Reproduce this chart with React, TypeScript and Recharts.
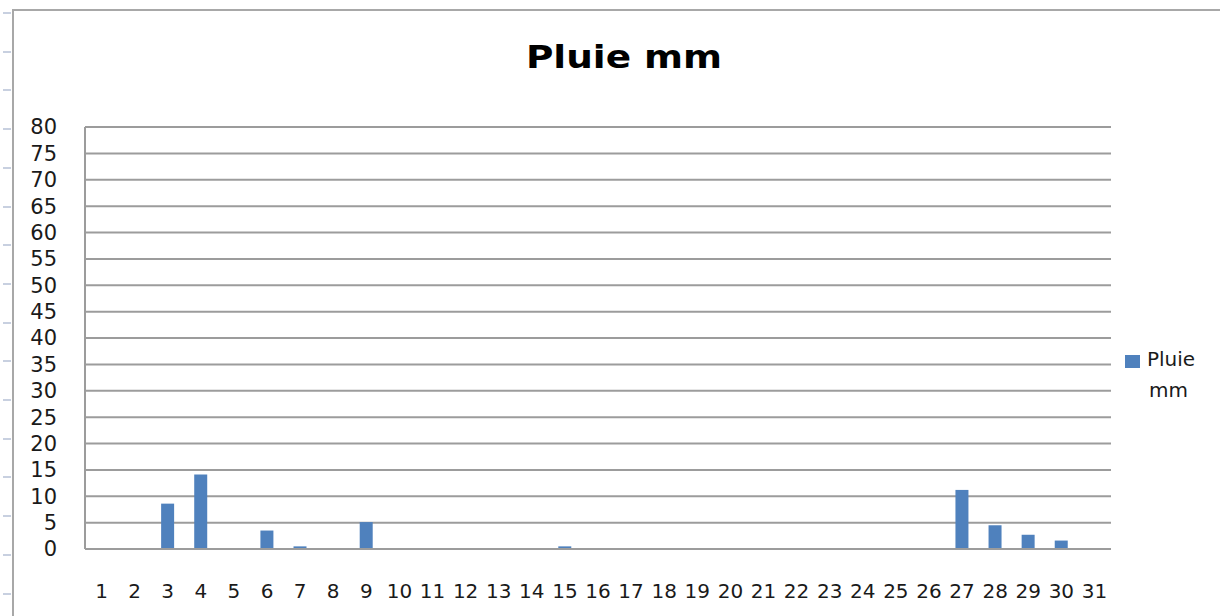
import { BarChart, Bar, XAxis, YAxis, CartesianGrid } from 'recharts';

const days = ['1', '2', '3', '4', '5', '6', '7', '8', '9', '10', '11', '12', '13', '14', '15', '16',
    '17', '18', '19', '20', '21', '22', '23', '24', '25', '26', '27', '28', '29', '30', '31'];
const rain = [0, 0, 8.6, 14.1, 0, 3.5, 0.5, 0, 5.1, 0, 0, 0, 0, 0, 0.5, 0,
    0, 0, 0, 0, 0, 0, 0, 0, 0, 0, 11.2, 4.5, 2.7, 1.6, 0];
const yTicks = [0, 5, 10, 15, 20, 25, 30, 35, 40, 45, 50, 55, 60, 65, 70, 75, 80];

const SERIES_NAME = 'Pluie mm';
const BAR_COLOR = '#4F81BD';
const GRID = '#9c9c9c';
const FONT = '"DejaVu Sans", Verdana, sans-serif';

const data = days.map((d, i) => ({ day: d, pluie: rain[i] }));

// small marks on the sheet edge, left of the chart frame
const sideMarks = Array.from({ length: 16 }, (_, i) => 13 + i * 38.7);

export default function App() {
    return (
        <div style={{ position: 'absolute', left: 0, top: 0, width: 1220, height: 616, background: '#fff', overflow: 'hidden', fontFamily: FONT }}>
            {/* chart frame */}
            <div style={{ position: 'absolute', left: 12, top: 9, width: 2, height: 620, background: '#a8a8a8' }} />
            <div style={{ position: 'absolute', left: 12, top: 9, width: 1220, height: 2, background: '#a8a8a8' }} />
            {sideMarks.map((y) => (
                <div key={y} style={{ position: 'absolute', left: 3, top: y - 1, width: 8, height: 2, background: '#c8d0e0' }} />
            ))}

            <div style={{ position: 'absolute', left: 424, top: 38, width: 400, textAlign: 'center', fontSize: 32, fontWeight: 'bold', color: '#000', transform: 'scaleX(1.17)', lineHeight: '38px' }}>
                {SERIES_NAME}
            </div>

            <div style={{ position: 'absolute', left: 0, top: 0 }}>
                <BarChart width={1220} height={616} data={data} margin={{ top: 127, right: 109, left: 0, bottom: 0 }} barCategoryGap="30%">
                    <CartesianGrid vertical={false} stroke={GRID} strokeWidth={2} />
                    <XAxis
                        dataKey="day"
                        height={67}
                        axisLine={{ stroke: GRID, strokeWidth: 2 }}
                        tickLine={false}
                        tickSize={0}
                        tickMargin={35}
                        interval={0}
                        tick={{ fill: '#1a1a1a', fontSize: 20, fontFamily: FONT }}
                    />
                    <YAxis
                        width={85}
                        domain={[0, 80]}
                        ticks={yTicks}
                        interval={0}
                        axisLine={{ stroke: GRID, strokeWidth: 2 }}
                        tickLine={false}
                        tickSize={0}
                        tickMargin={28}
                        tick={{ fill: '#1a1a1a', fontSize: 21, fontFamily: FONT }}
                    />
                    <Bar dataKey="pluie" name={SERIES_NAME} fill={BAR_COLOR} isAnimationActive={false} />
                </BarChart>
            </div>

            {/* legend */}
            <div style={{ position: 'absolute', left: 1125, top: 355, width: 15, height: 13, background: BAR_COLOR }} />
            <div style={{ position: 'absolute', left: 1147, top: 344, fontSize: 20, lineHeight: '31px', color: '#1a1a1a' }}>
                Pluie<br /><span style={{ marginLeft: 2 }}>mm</span>
            </div>
        </div>
    );
}
